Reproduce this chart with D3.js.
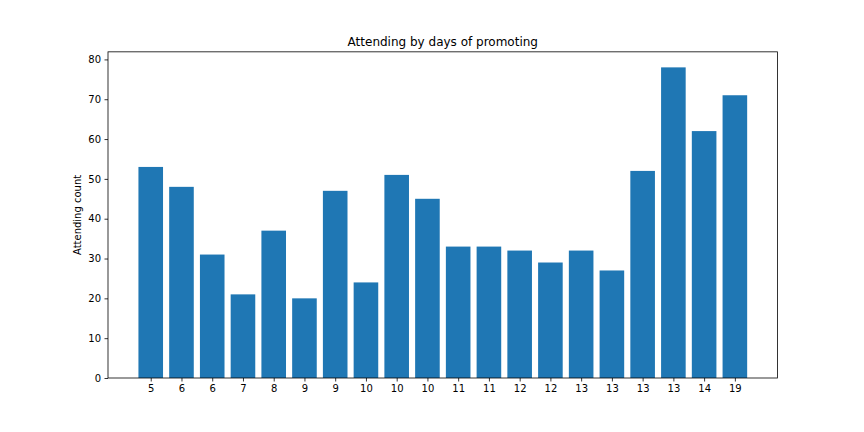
<!DOCTYPE html>
<html>
<head>
<meta charset="utf-8">
<script src="https://cdn.jsdelivr.net/npm/d3@7"></script>
<style>
  body { margin: 0; background: #fff; }
  svg { font-family: "DejaVu Sans", sans-serif; }
</style>
</head>
<body>
<div class="board"></div>
<script>
// bar chart: attending count per promoting-days entry
var dayLabels = ["5", "6", "6", "7", "8", "9", "9", "10", "10", "10",
                 "11", "11", "12", "12", "13", "13", "13", "13", "14", "19"];
var attending = [53, 48, 31, 21, 37, 20, 47, 24, 51, 45,
                 33, 33, 32, 29, 32, 27, 52, 78, 62, 71];
var yTicks = [0, 10, 20, 30, 40, 50, 60, 70, 80];

var figWidth = 864, figHeight = 432;
// note: "top" is a reserved window global, so use plot* names
var plotLeft = 108, plotRight = 777.6, plotTop = 51.84, plotBottom = 378;
var barWidth = 0.8;

var svg = d3.select(".board").append("svg")
  .attr("width", figWidth)
  .attr("height", figHeight);

// matplotlib-style 5% margins around the bars
var xMin = -barWidth / 2, xMax = attending.length - 1 + barWidth / 2;
var pad = (xMax - xMin) * 0.05;
var x = d3.scaleLinear()
  .domain([xMin - pad, xMax + pad])
  .range([plotLeft, plotRight]);

var y = d3.scaleLinear()
  .domain([0, d3.max(attending) * 1.05])
  .range([plotBottom, plotTop]);

svg.append("g").selectAll("rect")
  .data(attending)
  .enter()
  .append("rect")
  .attr("fill", "#1f77b4")
  .attr("x", function(d, i) { return x(i - barWidth / 2); })
  .attr("width", function(d, i) { return x(i + barWidth / 2) - x(i - barWidth / 2); })
  .attr("y", function(d) { return y(d); })
  .attr("height", function(d) { return y(0) - y(d); });

var xAxis = d3.axisBottom(x)
  .tickValues(d3.range(dayLabels.length))
  .tickFormat(function(i) { return dayLabels[i]; })
  .tickSize(3.5)
  .tickPadding(3.5);

var yAxis = d3.axisLeft(y)
  .tickValues(yTicks)
  .tickSize(3.5)
  .tickPadding(3.5);

var gx = svg.append("g")
  .attr("transform", "translate(0," + plotBottom + ")")
  .call(xAxis);
var gy = svg.append("g")
  .attr("transform", "translate(" + plotLeft + ",0)")
  .call(yAxis);

[gx, gy].forEach(function(g) {
  g.select(".domain").remove();
  g.selectAll(".tick line").attr("stroke", "#000").attr("stroke-width", 0.8);
  g.selectAll(".tick text")
    .attr("fill", "#000")
    .style("font-size", "10px")
    .style("font-family", "DejaVu Sans, sans-serif");
});

// frame
svg.append("rect")
  .attr("x", plotLeft)
  .attr("y", plotTop)
  .attr("width", plotRight - plotLeft)
  .attr("height", plotBottom - plotTop)
  .attr("fill", "none")
  .attr("stroke", "#000")
  .attr("stroke-width", 0.8);

svg.append("text")
  .attr("x", (plotLeft + plotRight) / 2)
  .attr("y", plotTop - 6)
  .attr("text-anchor", "middle")
  .style("font-size", "12px")
  .text("Attending by days of promoting");

svg.append("text")
  .attr("transform", "translate(81," + (plotTop + plotBottom) / 2 + ") rotate(-90)")
  .attr("text-anchor", "middle")
  .style("font-size", "10px")
  .text("Attending count");
</script>
</body>
</html>
